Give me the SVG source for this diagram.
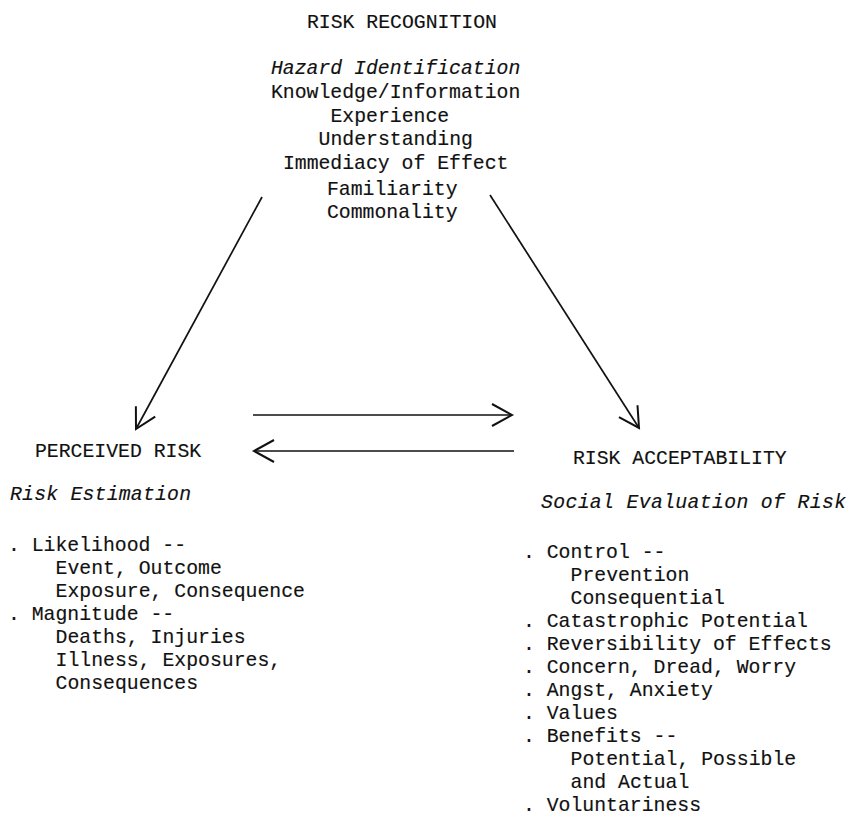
<svg xmlns="http://www.w3.org/2000/svg" width="851" height="821" viewBox="0 0 851 821">
<style>
  text { font-family: "Liberation Mono", "DejaVu Sans Mono", monospace; font-size: 19.8px; fill: #111; stroke: #111; stroke-width: 0.15; }
  .it { font-style: italic; }
  .conn { stroke: #111; stroke-width: 1.7; fill: none; }
</style>
<defs>
  <marker id="vhead" markerUnits="userSpaceOnUse" markerWidth="30" markerHeight="30" viewBox="-25 -15 30 30" refX="0" refY="0" orient="auto">
    <path d="M -20,-11 L 0,0 L -20,11" fill="none" stroke="#111" stroke-width="2"/>
  </marker>
</defs>
<rect width="851" height="821" fill="#fff"/>

<g id="risk-recognition">
  <text x="307" y="28">RISK RECOGNITION</text>
  <text class="it" x="271" y="74">Hazard Identification</text>
  <text x="271" y="97.8">Knowledge/Information</text>
  <text x="330.5" y="121.6">Experience</text>
  <text x="318.6" y="145.4">Understanding</text>
  <text x="282.9" y="169.4">Immediacy of Effect</text>
  <text x="327" y="194.5">Familiarity</text>
  <text x="327" y="218">Commonality</text>
</g>

<g id="perceived-risk">
  <text x="35" y="457">PERCEIVED RISK</text>
  <text class="it" x="10" y="500" textLength="181">Risk Estimation</text>
  <text x="8" y="551">. Likelihood --</text>
  <text x="55.6" y="574">Event, Outcome</text>
  <text x="55.6" y="597">Exposure, Consequence</text>
  <text x="8" y="620">. Magnitude --</text>
  <text x="55.6" y="643">Deaths, Injuries</text>
  <text x="55.6" y="666">Illness, Exposures,</text>
  <text x="55.6" y="689">Consequences</text>
</g>

<g id="risk-acceptability">
  <text x="573" y="464">RISK ACCEPTABILITY</text>
  <text class="it" x="541" y="508" textLength="305">Social Evaluation of Risk</text>
  <text x="523" y="558">. Control --</text>
  <text x="570.6" y="581">Prevention</text>
  <text x="570.6" y="604">Consequential</text>
  <text x="523" y="627">. Catastrophic Potential</text>
  <text x="523" y="650">. Reversibility of Effects</text>
  <text x="523" y="673">. Concern, Dread, Worry</text>
  <text x="523" y="696">. Angst, Anxiety</text>
  <text x="523" y="719">. Values</text>
  <text x="523" y="742">. Benefits --</text>
  <text x="570.6" y="765">Potential, Possible</text>
  <text x="570.6" y="788">and Actual</text>
  <text x="523" y="811">. Voluntariness</text>
</g>

<g id="connectors">
  <line class="conn" x1="262" y1="197" x2="136" y2="429" marker-end="url(#vhead)"/>
  <line class="conn" x1="490" y1="195" x2="639" y2="428" marker-end="url(#vhead)"/>
  <line class="conn" x1="253" y1="415" x2="512" y2="415" marker-end="url(#vhead)"/>
  <line class="conn" x1="514" y1="451" x2="254" y2="451" marker-end="url(#vhead)"/>
</g>
</svg>
